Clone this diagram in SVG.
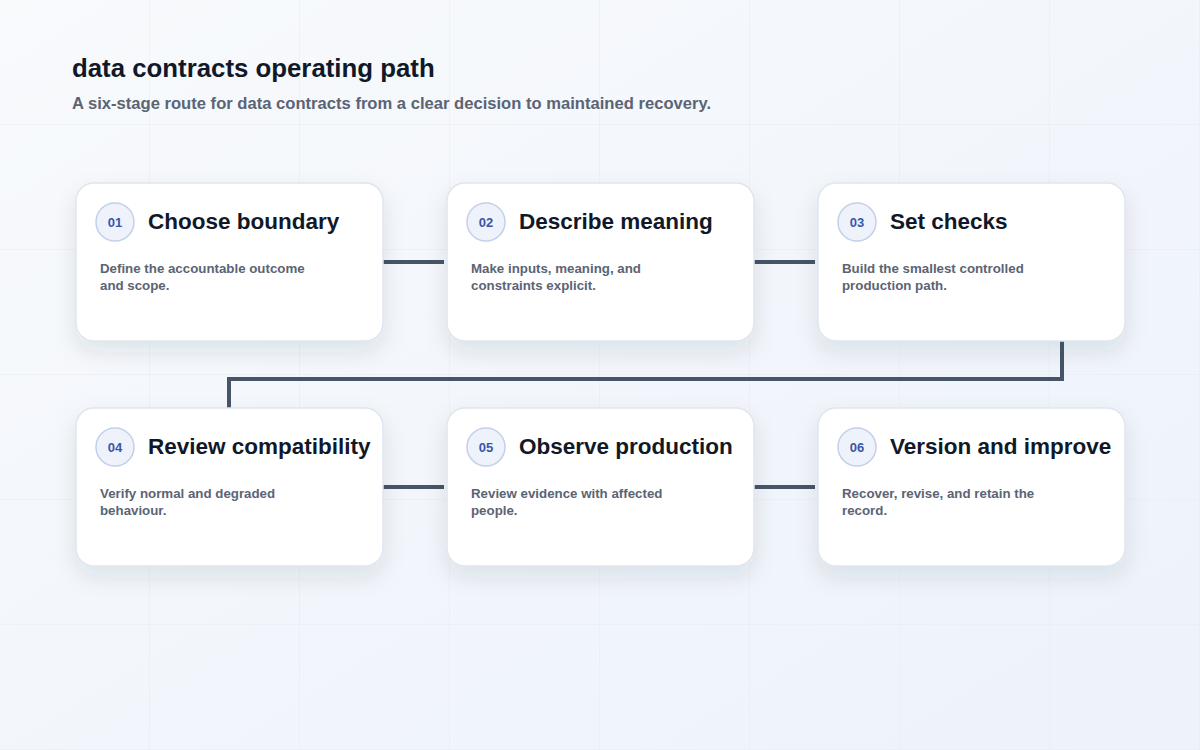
<svg xmlns="http://www.w3.org/2000/svg" width="1200" height="750" viewBox="0 0 1200 750">
<defs>
<linearGradient id="bg" x1="0" y1="0" x2="1" y2="1">
<stop offset="0" stop-color="#f8fafc"/>
<stop offset="1" stop-color="#edf2fb"/>
</linearGradient>
<filter id="sh" x="-20%" y="-30%" width="140%" height="170%">
<feDropShadow dx="0" dy="10" stdDeviation="11" flood-color="#1e293b" flood-opacity="0.10"/>
</filter>
<pattern id="grid" width="150" height="125" patternUnits="userSpaceOnUse">
<path d="M150 0V125M0 125H150" fill="none" stroke="#e6eaf0" stroke-width="1"/>
</pattern>
</defs>
<style>
.card{fill:#ffffff;stroke:#dfe5ee;stroke-width:1.5;filter:url(#sh)}
.badge{fill:#eef2fb;stroke:#c3d0ea;stroke-width:1.5}
.num{font-family:"Liberation Sans",Arial,sans-serif;font-size:13px;font-weight:700;fill:#3a56a8;text-anchor:middle}
.title{font-family:"Liberation Sans",Arial,sans-serif;font-size:22.5px;font-weight:700;fill:#111827}
.desc{font-family:"Liberation Sans",Arial,sans-serif;font-size:13.3px;font-weight:700;fill:#5b6474}
.conn{fill:none;stroke:#475569;stroke-width:4}
</style>
<rect width="1200" height="750" fill="url(#bg)"/>
<rect width="1200" height="750" fill="url(#grid)"/>
<text x="72" y="77" font-family="'Liberation Sans',Arial,sans-serif" font-size="25.8" font-weight="700" fill="#111827">data contracts operating path</text>
<text x="72" y="109" font-family="'Liberation Sans',Arial,sans-serif" font-size="16.6" font-weight="700" fill="#5b6474">A six-stage route for data contracts from a clear decision to maintained recovery.</text>
<g id="connectors">
<path class="conn" d="M383 262H444"/>
<path class="conn" d="M754 262H815"/>
<path class="conn" d="M1062 341V379H229V408"/>
<path class="conn" d="M383 487H444"/>
<path class="conn" d="M754 487H815"/>
</g>
<g id="node1">
<rect class="card" x="76" y="183" width="307" height="158" rx="18"/>
<circle class="badge" cx="115" cy="222" r="19"/>
<text class="num" x="115" y="227">01</text>
<text class="title" x="148" y="229">Choose boundary</text>
<text class="desc" x="100" y="273">Define the accountable outcome</text>
<text class="desc" x="100" y="290">and scope.</text>
</g>
<g id="node2">
<rect class="card" x="447" y="183" width="307" height="158" rx="18"/>
<circle class="badge" cx="486" cy="222" r="19"/>
<text class="num" x="486" y="227">02</text>
<text class="title" x="519" y="229">Describe meaning</text>
<text class="desc" x="471" y="273">Make inputs, meaning, and</text>
<text class="desc" x="471" y="290">constraints explicit.</text>
</g>
<g id="node3">
<rect class="card" x="818" y="183" width="307" height="158" rx="18"/>
<circle class="badge" cx="857" cy="222" r="19"/>
<text class="num" x="857" y="227">03</text>
<text class="title" x="890" y="229">Set checks</text>
<text class="desc" x="842" y="273">Build the smallest controlled</text>
<text class="desc" x="842" y="290">production path.</text>
</g>
<g id="node4">
<rect class="card" x="76" y="408" width="307" height="158" rx="18"/>
<circle class="badge" cx="115" cy="447" r="19"/>
<text class="num" x="115" y="452">04</text>
<text class="title" x="148" y="454">Review compatibility</text>
<text class="desc" x="100" y="498">Verify normal and degraded</text>
<text class="desc" x="100" y="515">behaviour.</text>
</g>
<g id="node5">
<rect class="card" x="447" y="408" width="307" height="158" rx="18"/>
<circle class="badge" cx="486" cy="447" r="19"/>
<text class="num" x="486" y="452">05</text>
<text class="title" x="519" y="454">Observe production</text>
<text class="desc" x="471" y="498">Review evidence with affected</text>
<text class="desc" x="471" y="515">people.</text>
</g>
<g id="node6">
<rect class="card" x="818" y="408" width="307" height="158" rx="18"/>
<circle class="badge" cx="857" cy="447" r="19"/>
<text class="num" x="857" y="452">06</text>
<text class="title" x="890" y="454">Version and improve</text>
<text class="desc" x="842" y="498">Recover, revise, and retain the</text>
<text class="desc" x="842" y="515">record.</text>
</g>
</svg>
